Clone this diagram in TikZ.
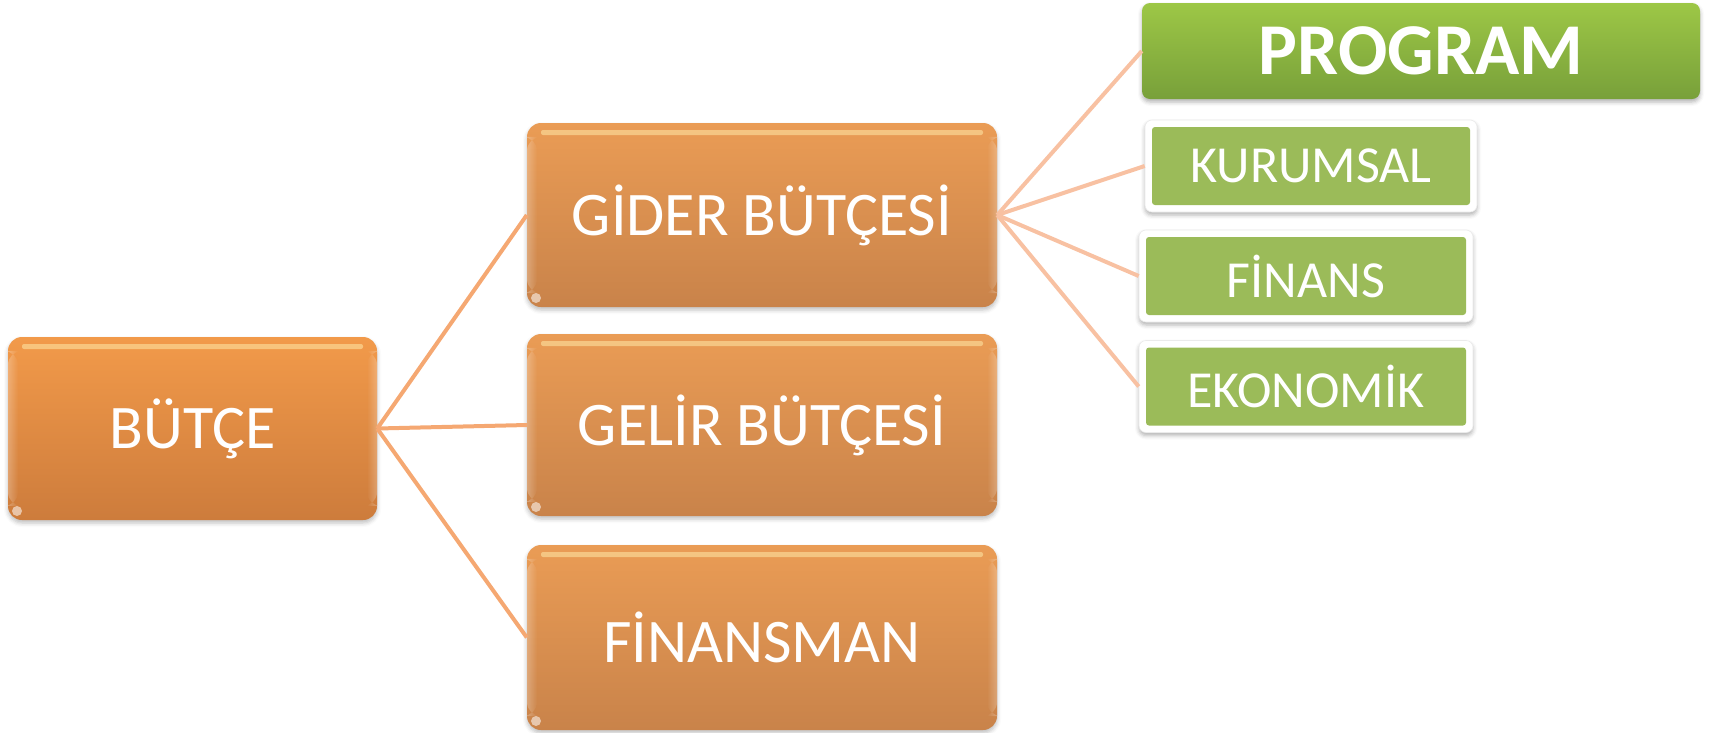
\documentclass[tikz,border=0pt]{standalone}
\usepackage{fontspec}
\setmainfont{Carlito}
\usetikzlibrary{shadows,shadows.blur,fadings}
\definecolor{ortopA}{HTML}{F29A4A}
\definecolor{orbotA}{HTML}{CD7C3C}
\definecolor{ortop}{HTML}{EA9C55}
\definecolor{orbot}{HTML}{C9834A}
\definecolor{grtop}{HTML}{9DC746}
\definecolor{grbot}{HTML}{78A03A}
\definecolor{grflat}{HTML}{9BBB59}
\definecolor{linkL}{HTML}{F5A872}
\definecolor{linkR}{HTML}{F8C1A2}
\definecolor{gloss}{HTML}{FFE9A8}
\tikzset{
  glossy/.style={path picture={
      \fill[gloss,opacity=0.55,rounded corners=2pt]
        ([xshift=14pt,yshift=-7pt]path picture bounding box.north west)
        rectangle ([xshift=-14pt,yshift=-12pt]path picture bounding box.north east);
      \fill[white,opacity=0.25,path fading=east]
        ([xshift=0pt,yshift=-14pt]path picture bounding box.north west)
        rectangle ([xshift=10pt,yshift=14pt]path picture bounding box.south west);
      \fill[white,opacity=0.25,path fading=west]
        ([xshift=-10pt,yshift=-14pt]path picture bounding box.north east)
        rectangle ([xshift=0pt,yshift=14pt]path picture bounding box.south east);
      \fill[white,opacity=0.55]
        ([xshift=9pt,yshift=9pt]path picture bounding box.south west) circle (5pt);
    }},
  obox/.style={rounded corners=14pt, top color=ortop, bottom color=orbot,
    text=white, inner sep=0pt, minimum width=470pt, minimum height=184pt,
    font=\fontsize{62}{70}\selectfont, glossy,
    blur shadow={shadow xshift=0pt, shadow yshift=-3pt, shadow blur radius=4pt, shadow opacity=25}},
  gbox/.style={rounded corners=7pt, fill=white, draw=black!8, line width=0.6pt,
    text=white, inner sep=0pt, minimum width=334pt, minimum height=92pt,
    font=\fontsize{52}{60}\selectfont,
    path picture={\fill[grflat,rounded corners=3pt]
        ([xshift=7pt,yshift=-7pt]path picture bounding box.north west)
        rectangle ([xshift=-7pt,yshift=7pt]path picture bounding box.south east);},
    blur shadow={shadow xshift=0pt, shadow yshift=-3pt, shadow blur radius=4pt, shadow opacity=30}},
  pbox/.style={rounded corners=8pt, top color=grtop, bottom color=grbot,
    text=white, inner sep=0pt, minimum width=558pt, minimum height=96pt,
    font=\fontsize{73}{80}\selectfont\bfseries,
    blur shadow={shadow xshift=0pt, shadow yshift=-3pt, shadow blur radius=4pt, shadow opacity=30}},
  linkl/.style={draw=linkL, line width=4pt},
  linkr/.style={draw=linkR, line width=4pt},
}
\begin{document}
\begin{tikzpicture}[x=1pt,y=-1pt]
\useasboundingbox (0,0) rectangle (1717,732);
\node[obox, top color=ortopA, bottom color=orbotA, minimum width=369pt, minimum height=183pt] (butce) at (192.5,428.5) {BÜTÇE};
\node[obox] (gider) at (762,215) {GİDER BÜTÇESİ};
\node[obox, minimum height=182pt] (gelir) at (762,425) {GELİR BÜTÇESİ};
\node[obox, minimum height=185pt] (finansman) at (762,637.5) {FİNANSMAN};
\node[pbox] (program) at (1421,51) {PROGRAM};
\node[gbox, minimum width=332pt] (kurumsal) at (1311,166) {KURUMSAL};
\node[gbox] (finans) at (1306,276) {FİNANS};
\node[gbox] (ekonomik) at (1306,386.5) {EKONOMİK};
\draw[linkl] (butce.east) -- (gider.west);
\draw[linkl] (butce.east) -- (gelir.west);
\draw[linkl] (butce.east) -- (finansman.west);
\draw[linkr] (gider.east) -- (program.west);
\draw[linkr] (gider.east) -- (kurumsal.west);
\draw[linkr] (gider.east) -- (finans.west);
\draw[linkr] (gider.east) -- (ekonomik.west);
\end{tikzpicture}
\end{document}
